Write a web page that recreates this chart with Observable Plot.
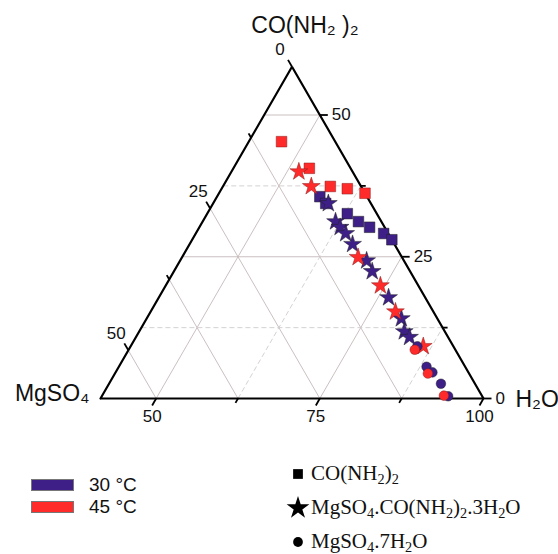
<!DOCTYPE html>
<html>
<head>
<meta charset="utf-8">
<script src="https://cdn.jsdelivr.net/npm/d3@7"></script>
<script src="https://cdn.jsdelivr.net/npm/@observablehq/plot@0.6"></script>
<style>
  body { margin: 0; background: #fff; }
  #wrap { position: relative; width: 558px; height: 554px; overflow: hidden; background: #fff; }
  #legend { position: absolute; left: 0; top: 0; width: 558px; height: 554px; pointer-events: none; }
  .sw { position: absolute; width: 41px; height: 10px; border: 1px solid #777; }
  .tl { position: absolute; font-family: "Liberation Sans", Arial, sans-serif; font-size: 19px; color: #111; line-height: 1; }
  .pl { position: absolute; font-family: "Liberation Serif", "Times New Roman", serif; font-size: 21px; color: #111; line-height: 1; white-space: nowrap; }
  .pl sub { font-size: 68%; vertical-align: -0.25em; line-height: 0; }
  .sym { position: absolute; }
</style>
</head>
<body>
<div id="wrap">
  <div id="chart"></div>
  <div id="legend"></div>
</div>
<script>
// ---- data (mass %) ----
// Visible edge length of the zoomed ternary triangle (%)
const span = 58.5;

// 45 °C, solid phase CO(NH2)2
const sq45_urea  = [45.3, 40.6, 37.4, 37.0, 36.2];
const sq45_mgso4 = [8.2, 6.3, 4.7, 2.3, 0.0];
// 30 °C, solid phase CO(NH2)2
const sq30_urea  = [35.6, 34.4, 32.6, 31.2, 30.2, 29.1, 28.0];
const sq30_mgso4 = [7.2, 6.9, 4.5, 3.5, 2.3, 0.7, 0.0];
// 45 °C, MgSO4.CO(NH2)2.3H2O
const st45_urea  = [40.0, 37.4, 24.9, 19.9, 15.3, 9.2];
const st45_mgso4 = [8.2, 7.6, 6.7, 5.8, 5.8, 4.6];
// 30 °C, MgSO4.CO(NH2)2.3H2O
const st30_urea  = [34.4, 31.2, 30.2, 29.1, 27.2, 24.3, 22.4, 17.8, 14.1, 11.8, 10.8];
const st30_mgso4 = [6.5, 7.0, 6.8, 6.5, 6.4, 5.7, 5.8, 5.6, 5.5, 6.2, 5.9];
// 30 °C, MgSO4.7H2O
const ci30_urea  = [9.2, 5.6, 4.6, 2.6, 0.4];
const ci30_mgso4 = [5.5, 5.9, 5.5, 5.2, 5.2];
// 45 °C, MgSO4.7H2O
const ci45_urea  = [8.6, 4.4, 0.5];
const ci45_mgso4 = [6.2, 6.3, 5.8];

// grid / tick levels
const ureaLevels  = [12.5, 25, 37.5, 50];
const mgso4Levels = [12.5, 25, 37.5, 50];
const waterLevels = [50, 62.5, 75, 87.5];
const ureaTicks  = [0, 12.5, 25, 37.5, 50];
const mgso4Ticks = [0, 12.5, 25, 37.5, 50];
const waterTicks = [50, 62.5, 75, 87.5, 100];
const ureaLabels  = [0, 25, 50];
const mgso4Labels = [0, 25, 50];
const waterLabels = [50, 75, 100];

const colors = {t30: "#3d1f87", t45: "#ff2b2b"};

// ---- ternary -> cartesian ----
const W0 = 100 - span;
const SQ3 = Math.sqrt(3) / 2;
const tx = (u, m) => (100 - u - m) - W0 + u / 2;
const ty = (u) => u * SQ3;

// layout
const width = 558, height = 450;
const left = 100, base = 398;         // pixel position of the MgSO4 corner
const k = (483 - left) / span;        // pixels per %
const xDomain = [-left / k, (width - left) / k];
const yDomain = [(base - height) / k, base / k];

const pts = (us, ms) => us.map((u, i) => ({x: tx(u, ms[i]), y: ty(u)}));

// triangle
const corners = [[0, span], [0, 0], [span, 0], [0, span]];
const tri = corners.map(([u, m]) => ({x: tx(u, m), y: ty(u)}));

// grid lines
const grid = [];
ureaLevels.forEach(u => grid.push({x1: tx(u, span - u), y1: ty(u), x2: tx(u, 0), y2: ty(u), dash: u % 25 !== 0}));
mgso4Levels.forEach(m => grid.push({x1: tx(span - m, m), y1: ty(span - m), x2: tx(0, m), y2: ty(0), dash: false}));
waterLevels.forEach(w => grid.push({x1: tx(0, 100 - w), y1: ty(0), x2: tx(100 - w, 0), y2: ty(100 - w), dash: w % 25 !== 0}));

// ticks (length in px converted to data units)
const tl = v => (v % 25 === 0 ? 8 : 5) / k;
const ticks = [];
ureaTicks.forEach(u => { const x = tx(u, 0), y = ty(u); ticks.push({x1: x, y1: y, x2: x + tl(u), y2: y}); });
mgso4Ticks.forEach(m => { const u = span - m, x = tx(u, m), y = ty(u); ticks.push({x1: x, y1: y, x2: x - 0.5 * tl(m), y2: y + SQ3 * tl(m)}); });
waterTicks.forEach(w => { const x = tx(0, 100 - w), y = 0; ticks.push({x1: x, y1: y, x2: x - 0.5 * tl(w), y2: y - SQ3 * tl(w)}); });

const uLab = ureaLabels.map(u => ({x: tx(u, 0), y: ty(u), t: String(u)}));
const mLab = mgso4Labels.map(m => ({x: tx(span - m, m), y: ty(span - m), t: String(m)}));
const wLab = waterLabels.map(w => ({x: tx(0, 100 - w), y: 0, t: String(w)}));

const apex = tri[2], mgCorner = tri[0], wCorner = tri[1];
const font = "Liberation Sans, Arial, sans-serif";

const plot = Plot.plot({
  width, height,
  marginTop: 0, marginRight: 0, marginBottom: 0, marginLeft: 0,
  x: {domain: xDomain, axis: null},
  y: {domain: yDomain, axis: null},
  style: {background: "#fff", fontFamily: font},
  marks: [
    Plot.link(grid.filter(d => !d.dash), {x1: "x1", y1: "y1", x2: "x2", y2: "y2", stroke: "#c5b9b9", strokeWidth: 0.9}),
    Plot.link(grid.filter(d => d.dash), {x1: "x1", y1: "y1", x2: "x2", y2: "y2", stroke: "#cfcccc", strokeWidth: 0.9, strokeDasharray: "5,3"}),
    Plot.line(tri, {x: "x", y: "y", stroke: "#000", strokeWidth: 2.2, strokeLinejoin: "miter"}),
    Plot.link(ticks, {x1: "x1", y1: "y1", x2: "x2", y2: "y2", stroke: "#000", strokeWidth: 1.8}),
    Plot.text(uLab, {x: "x", y: "y", text: "t", textAnchor: "start", dx: 12, fontSize: 17, fill: "#111"}),
    Plot.text(mLab, {x: "x", y: "y", text: "t", dx: -12, dy: -17, fontSize: 17, fill: "#111"}),
    Plot.text(wLab, {x: "x", y: "y", text: "t", dx: -4, dy: 18, fontSize: 17, fill: "#111"}),
    Plot.text([apex], {x: "x", y: "y", text: () => "CO(NH₂ )₂", dx: 13, dy: -41, fontSize: 23, fill: "#111"}),
    Plot.text([mgCorner], {x: "x", y: "y", text: () => "MgSO₄", textAnchor: "end", dx: -11, dy: -5, fontSize: 23, fill: "#111"}),
    Plot.text([wCorner], {x: "x", y: "y", text: () => "H₂O", textAnchor: "start", dx: 32, dy: 1, fontSize: 23, fill: "#111"}),
    Plot.dot(pts(sq30_urea, sq30_mgso4), {x: "x", y: "y", symbol: "square", r: 6, fill: colors.t30, stroke: "#222", strokeWidth: 0.5}),
    Plot.dot(pts(sq45_urea, sq45_mgso4), {x: "x", y: "y", symbol: "square", r: 6, fill: colors.t45, stroke: "#8a1a1a", strokeWidth: 0.5}),
    Plot.dot(pts(st30_urea, st30_mgso4), {x: "x", y: "y", symbol: "star", r: 5.6, fill: colors.t30, stroke: "#222", strokeWidth: 0.5}),
    Plot.dot(pts(st45_urea, st45_mgso4), {x: "x", y: "y", symbol: "star", r: 5.6, fill: colors.t45, stroke: "#8a1a1a", strokeWidth: 0.5}),
    Plot.dot(pts(ci30_urea, ci30_mgso4), {x: "x", y: "y", symbol: "circle", r: 4.8, fill: colors.t30, stroke: "#222", strokeWidth: 0.5}),
    Plot.dot(pts(ci45_urea, ci45_mgso4), {x: "x", y: "y", symbol: "circle", r: 4.8, fill: colors.t45, stroke: "#8a1a1a", strokeWidth: 0.5})
  ]
});
document.getElementById("chart").appendChild(plot);

// ---- legend (HTML below the chart) ----
const tempNames = ["30 °C", "45 °C"];
const phaseNames = [
  "CO(NH<sub>2</sub>)<sub>2</sub>",
  "MgSO<sub>4</sub>.CO(NH<sub>2</sub>)<sub>2</sub>.3H<sub>2</sub>O",
  "MgSO<sub>4</sub>.7H<sub>2</sub>O"
];
const phaseSymbols = [d3.symbolSquare, d3.symbolStar, d3.symbolCircle];
const phaseSizes = [95, 160, 75];
const lg = document.getElementById("legend");
let html = "";
[colors.t30, colors.t45].forEach((c, i) => {
  const top = 479 + i * 22;
  html += `<div class="sw" style="left:31px;top:${top}px;background:${c}"></div>`;
  html += `<div class="tl" style="left:89px;top:${top - 4}px">${tempNames[i]}</div>`;
});
const rowsY = [474, 508, 542];
phaseNames.forEach((n, i) => {
  const cy = rowsY[i];
  const path = d3.symbol(phaseSymbols[i], phaseSizes[i])();
  html += `<svg class="sym" width="24" height="24" style="left:286px;top:${cy - 12}px"><path d="${path}" transform="translate(12,12)" fill="#000"/></svg>`;
  html += `<div class="pl" style="left:311px;top:${cy - 11}px">${n}</div>`;
});
lg.innerHTML = html;
</script>
</body>
</html>
